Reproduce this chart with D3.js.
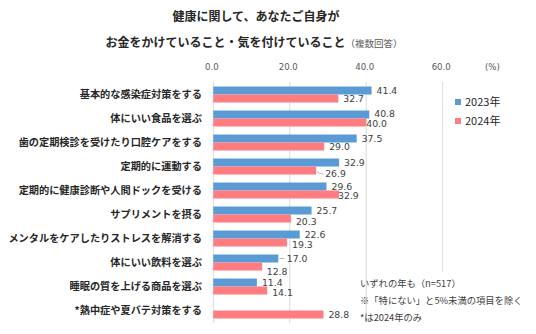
<!DOCTYPE html>
<html><head><meta charset="utf-8">
<script src="https://cdn.jsdelivr.net/npm/d3@7"></script>
<style>body{margin:0;background:#fff}svg{display:block}</style>
</head><body>
<svg id="c" width="536" height="334"></svg>
<script>
const categories = [
  "基本的な感染症対策をする",
  "体にいい食品を選ぶ",
  "歯の定期検診を受けたり口腔ケアをする",
  "定期的に運動する",
  "定期的に健康診断や人間ドックを受ける",
  "サプリメントを摂る",
  "メンタルをケアしたりストレスを解消する",
  "体にいい飲料を選ぶ",
  "睡眠の質を上げる商品を選ぶ",
  "*熱中症や夏バテ対策をする"
];
const seriesNames = ["2023年", "2024年"];
const values2023 = [41.4, 40.8, 37.5, 32.9, 29.6, 25.7, 22.6, 17.0, 11.4, null];
const values2024 = [32.7, 40.0, 29.0, 26.9, 32.9, 20.3, 19.3, 12.8, 14.1, 28.8];
const tickValues = [0, 20, 40, 60];
const titleLine1 = "健康に関して、あなたご自身が";
const titleLine2 = "お金をかけていること・気を付けていること";
const titleNote = "（複数回答）";
const notes = ["いずれの年も（n=517）", "※「特にない」と5%未満の項目を除く", "*は2024年のみ"];

const colors = ["#5B9BD5", "#FF7C80"];
const svg = d3.select("#c");
const jp = "'Noto Sans CJK JP','Noto Sans',sans-serif";
const num = "'DejaVu Sans',Verdana,sans-serif";

const x = d3.scaleLinear().domain([0, 60]).range([213.3, 442.7]);
const y = d3.scaleBand().domain(categories).range([82.5, 322.5]).paddingInner(1/3).paddingOuter(1/6);
const ySub = d3.scaleBand().domain([0, 1]).range([0, y.bandwidth()]);

// title
svg.append("text").attr("x", 256).attr("y", 21).attr("text-anchor", "middle")
  .attr("font-family", jp).attr("font-size", 12).attr("font-weight", "bold").attr("fill", "#262626")
  .text(titleLine1);
const t2 = svg.append("text").attr("x", 254).attr("y", 47).attr("text-anchor", "middle")
  .attr("font-family", jp).attr("font-size", 12).attr("font-weight", "bold").attr("fill", "#262626");
t2.append("tspan").text(titleLine2);
t2.append("tspan").attr("font-size", 9.5).attr("font-weight", "normal").attr("fill", "#595959").text(titleNote);

// gridlines
svg.append("g").selectAll("line").data(tickValues).join("line")
  .attr("x1", d => x(d)).attr("x2", d => x(d))
  .attr("y1", 82).attr("y2", d => d === 60 ? 272 : 323)
  .attr("stroke", "#d9d9d9").attr("stroke-width", 1);

// top axis
const axis = d3.axisTop(x).tickValues(tickValues).tickFormat(d3.format(".1f")).tickSize(0).tickPadding(0);
const ag = svg.append("g").attr("transform", "translate(-2,70)").call(axis);
ag.select(".domain").remove();
ag.selectAll("text").attr("font-family", num).attr("font-size", 8.6).attr("fill", "#595959");
svg.append("text").attr("x", 485).attr("y", 70).attr("font-family", num).attr("font-size", 8.6)
  .attr("fill", "#595959").text("(%)");

// category labels
svg.append("g").selectAll("text").data(categories).join("text")
  .attr("x", 202).attr("y", d => y(d) + y.bandwidth() / 2)
  .attr("dy", "0.35em").attr("text-anchor", "end")
  .attr("font-family", jp).attr("font-size", 10.2).attr("font-weight", "bold").attr("fill", "#262626")
  .text(d => d);

// bars
const series = [values2023, values2024];
const barData = [];
series.forEach((vals, s) => vals.forEach((v, i) => { if (v != null) barData.push({ s, i, v }); }));
svg.append("g").selectAll("rect").data(barData).join("rect")
  .attr("x", x(0)).attr("y", d => y(categories[d.i]) + ySub(d.s))
  .attr("width", d => x(d.v) - x(0)).attr("height", ySub.bandwidth())
  .attr("fill", d => colors[d.s]);

// label nudges (manual placement as in original)
const nudge = { "1-0": [5, -1], "1-1": [0, 1], "3-1": [9, 3.5], "4-1": [-1, 1.5], "5-1": [5, 3], "6-1": [5, 2.5],
  "7-0": [8.5, 0], "7-1": [4.5, 5], "8-1": [5, 2] };
const lab = svg.append("g");
barData.forEach(d => {
  const nd = nudge[d.i + "-" + d.s] || [5, 0];
  const cy = y(categories[d.i]) + ySub(d.s) + ySub.bandwidth() / 2;
  lab.append("text").attr("x", x(d.v) + nd[0]).attr("y", cy + nd[1]).attr("dy", "0.36em")
    .attr("font-family", num).attr("font-size", 9.3).attr("fill", "#404040")
    .text(d3.format(".1f")(d.v));
  if (d.i === 3 && d.s === 1) {
    lab.append("path").attr("d", `M${x(d.v) + 1},${cy + 1} Q${x(d.v) + 3},${cy + 3.5} ${x(d.v) + 7},${cy + 3.5}`)
      .attr("fill", "none").attr("stroke", "#a6a6a6").attr("stroke-width", 0.8);
  }
  if (d.i === 7 && d.s === 0) {
    lab.append("line").attr("x1", x(d.v) + 1).attr("x2", x(d.v) + 6).attr("y1", cy).attr("y2", cy)
      .attr("stroke", "#a6a6a6").attr("stroke-width", 0.8);
  }
});

// legend
const lg = svg.append("g").selectAll("g").data(seriesNames).join("g")
  .attr("transform", (d, i) => `translate(455,${99 + i * 19})`);
lg.append("rect").attr("width", 6).attr("height", 6).attr("fill", (d, i) => colors[i]);
lg.append("text").attr("x", 10).attr("y", 3).attr("dy", "0.36em")
  .attr("font-family", jp).attr("font-size", 11).attr("fill", "#262626").text(d => d);

// notes
svg.append("g").selectAll("text").data(notes).join("text")
  .attr("x", 360).attr("y", (d, i) => 284 + i * 17).attr("dy", "0.36em")
  .attr("font-family", jp).attr("font-size", 9.3).attr("fill", "#404040").text(d => d);
</script>
</body></html>
